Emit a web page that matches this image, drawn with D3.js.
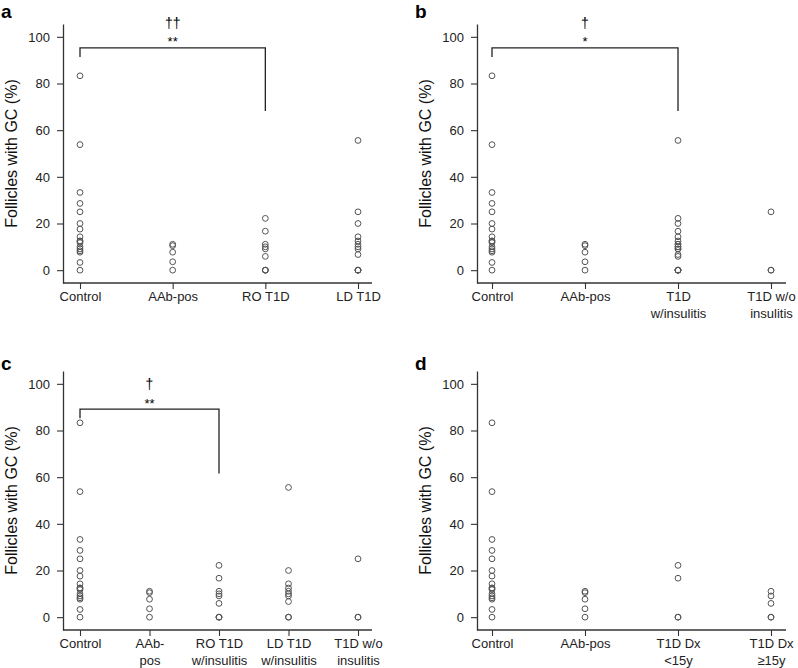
<!DOCTYPE html>
<html><head><meta charset="utf-8">
<script src="https://cdn.jsdelivr.net/npm/d3@7"></script>
<style>body{margin:0;background:#fff}</style>
</head><body><svg></svg>
<script>
// values (% follicles with GC)
const control = [83.3, 53.8, 33.3, 28.6, 25, 20, 17.6, 14.3, 12.5, 12.5, 11.8, 10, 9.1, 8.3, 7.7, 3.3, 0];
const aabPos = [11.1, 10.5, 7.7, 3.6, 0];
const roIns = [22.2, 16.7, 11.1, 10, 9.1, 5.9, 0, 0, 0];
const ldIns = [55.6, 20, 14.3, 12.5, 11.1, 10, 9.1, 6.7, 0, 0];
const noIns = [25, 0, 0];
const dxUnder15 = [22.2, 16.7, 0, 0];
const dxOver15 = [11.1, 9.1, 5.9, 0, 0];

const catsA = ["Control", "AAb-pos", "RO T1D", "LD T1D"];
const catsB = ["Control", "AAb-pos", "T1D\nw/insulitis", "T1D w/o\ninsulitis"];
const catsC = ["Control", "AAb-\npos", "RO T1D\nw/insulitis", "LD T1D\nw/insulitis", "T1D w/o\ninsulitis"];
const catsD = ["Control", "AAb-pos", "T1D Dx\n<15y", "T1D Dx\n≥15y"];

const yTicks = [0, 20, 40, 60, 80, 100];

// brackets: [from, to, top, left end, right end, dagger, stars]
const bracketA = ["Control", "RO T1D", 95.3, 91.4, 68.2, "††", "**"];
const bracketB = ["Control", "T1D\nw/insulitis", 95.3, 91.4, 68.2, "†", "*"];
const bracketC = ["Control", "RO T1D\nw/insulitis", 89.2, 85.3, 61.6, "†", "**"];

const panels = [
  {id: "a", dx: 0, dy: 0, ly: 18, xr: [80, 358], cats: catsA, groups: [control, aabPos, roIns, ldIns.concat(noIns)], br: bracketA},
  {id: "b", dx: 414, dy: 0, ly: 18, xr: [78, 357], cats: catsB, groups: [control, aabPos, roIns.concat(ldIns), noIns], br: bracketB},
  {id: "c", dx: 0, dy: 347, ly: 23, xr: [80, 358], cats: catsC, groups: [control, aabPos, roIns, ldIns, noIns], br: bracketC},
  {id: "d", dx: 414, dy: 347, ly: 23, xr: [78, 357], cats: catsD, groups: [control, aabPos, dxUnder15, dxOver15], br: null}
];

const svg = d3.select("svg").attr("width", 798).attr("height", 668)
  .style("font-family", "Arial, 'Liberation Sans', sans-serif");

panels.forEach(p => {
  const g = svg.append("g").attr("transform", `translate(${p.dx},${p.dy})`);
  const x = d3.scalePoint().domain(p.cats).range(p.xr);
  const y = d3.scaleLinear().domain([-5.5, 105.5]).range([283, 24]);

  // y axis
  const ya = g.append("g").attr("transform", "translate(63,0)")
    .call(d3.axisLeft(y).tickValues(yTicks).tickSize(6).tickSizeOuter(0).tickPadding(7));
  ya.select(".domain").attr("stroke", "#333").attr("stroke-width", 1.3);
  ya.selectAll(".tick line").attr("stroke", "#333").attr("stroke-width", 1.1);
  ya.selectAll(".tick text").attr("font-size", 13).attr("fill", "#222")
    .style("font-family", "Arial, 'Liberation Sans', sans-serif");

  // x axis
  const xa = g.append("g").attr("transform", "translate(0,283)")
    .call(d3.axisBottom(x).tickSize(6).tickSizeOuter(0).tickPadding(3));
  xa.select(".domain").remove();
  xa.append("line").attr("x1", 63).attr("x2", 372).attr("stroke", "#333").attr("stroke-width", 1.3);
  xa.selectAll(".tick line").attr("stroke", "#333").attr("stroke-width", 1.1);
  xa.selectAll(".tick text").attr("font-size", 13).attr("fill", "#222")
    .style("font-family", "Arial, 'Liberation Sans', sans-serif")
    .each(function(d) {
      const t = d3.select(this).text(null);
      d.split("\n").forEach((s, i) => {
        t.append("tspan").attr("x", 0).attr("dy", i === 0 ? "0.71em" : "1.28em").text(s);
      });
    });

  // points
  p.groups.forEach((vals, i) => {
    g.append("g").selectAll("circle").data(vals).join("circle")
      .attr("cx", x(p.cats[i]))
      .attr("cy", d => y(d))
      .attr("r", 2.9)
      .attr("fill", "none")
      .attr("stroke", "#555")
      .attr("stroke-width", 1);
  });

  // y label
  g.append("text")
    .attr("transform", `translate(17,${(y(105.5) + y(-5.5)) / 2}) rotate(-90)`)
    .attr("text-anchor", "middle").attr("font-size", 16).attr("fill", "#111")
    .text("Follicles with GC (%)");

  // panel letter
  g.append("text").attr("x", 1).attr("y", p.ly)
    .attr("font-size", 19).attr("font-weight", "bold").attr("fill", "#000")
    .text(p.id);

  // significance bracket
  if (p.br) {
    const [from, to, top, l, r, dag, star] = p.br;
    const x1 = x(from), x2 = x(to);
    g.append("path")
      .attr("d", `M${x1},${y(l)}V${y(top)}H${x2}V${y(r)}`)
      .attr("fill", "none").attr("stroke", "#222").attr("stroke-width", 1.3);
    const cx = (x1 + x2) / 2;
    g.append("text").attr("x", cx).attr("y", y(top) - 1.5)
      .attr("text-anchor", "middle").attr("font-size", 13).attr("fill", "#000").text(star);
    g.append("text").attr("x", cx).attr("y", y(top) - 20)
      .attr("text-anchor", "middle").attr("font-size", 14).attr("fill", "#000")
      .style("font-family", "'Liberation Sans', Arial, sans-serif").text(dag);
  }
});
</script>
</body></html>
